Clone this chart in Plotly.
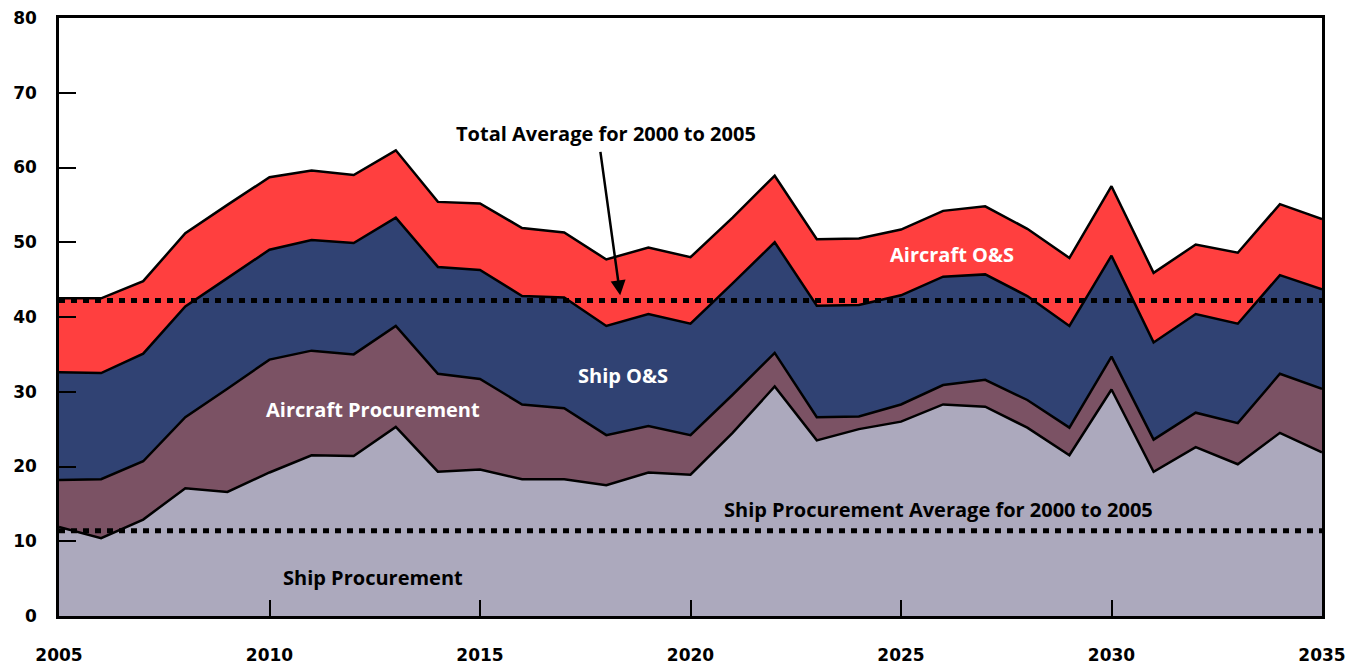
import plotly.graph_objects as go

# %% data

years = list(range(2005, 2036))

ship_procurement = [
    11.9, 10.4, 12.9, 17.1, 16.6, 19.2, 21.5, 21.4, 25.3, 19.3, 19.6,
    18.3, 18.3, 17.5, 19.2, 18.9, 24.5, 30.7, 23.5, 25.0, 26.0,
    28.3, 28.0, 25.2, 21.5, 30.3, 19.3, 22.6, 20.3, 24.5, 21.9,
]
aircraft_procurement = [
    6.3, 7.9, 7.8, 9.5, 13.8, 15.1, 14.0, 13.6, 13.5, 13.1, 12.1,
    10.0, 9.5, 6.7, 6.2, 5.3, 5.1, 4.5, 3.1, 1.7, 2.3,
    2.6, 3.6, 3.7, 3.7, 4.4, 4.3, 4.6, 5.5, 7.9, 8.5,
]
ship_os = [
    14.4, 14.2, 14.4, 14.8, 14.8, 14.7, 14.8, 14.9, 14.5, 14.3, 14.6,
    14.5, 14.8, 14.6, 15.0, 14.9, 14.9, 14.8, 14.9, 14.9, 14.6,
    14.5, 14.1, 13.9, 13.6, 13.5, 13.0, 13.2, 13.3, 13.2, 13.3,
]
aircraft_os = [
    9.9, 10.0, 9.7, 9.8, 9.8, 9.7, 9.3, 9.1, 9.0, 8.7, 8.9,
    9.1, 8.7, 8.9, 8.9, 8.9, 8.8, 8.9, 8.9, 8.9, 8.8,
    8.8, 9.1, 9.0, 9.1, 9.3, 9.3, 9.3, 9.5, 9.5, 9.4,
]

total_avg_2000_2005 = 42.2
ship_proc_avg_2000_2005 = 11.4

x_ticks = [2005, 2010, 2015, 2020, 2025, 2030, 2035]
y_ticks = [0, 10, 20, 30, 40, 50, 60, 70, 80]

# %% plot

layers = [
    ("Ship Procurement", ship_procurement, "#aca9bd"),
    ("Aircraft Procurement", aircraft_procurement, "#7b5264"),
    ("Ship O&S", ship_os, "#304273"),
    ("Aircraft O&S", aircraft_os, "#ff3f3f"),
]

fig = go.Figure()

for name, vals, color in layers:
    fig.add_trace(
        go.Scatter(
            x=years,
            y=vals,
            name=name,
            mode="lines",
            stackgroup="one",
            line=dict(color="black", width=2.5),
            fillcolor=color,
            showlegend=False,
        )
    )

# dotted average lines
for avg in [total_avg_2000_2005, ship_proc_avg_2000_2005]:
    fig.add_trace(
        go.Scatter(
            x=[years[0], years[-1]],
            y=[avg, avg],
            mode="lines",
            line=dict(color="black", width=5, dash="6px,6px"),
            showlegend=False,
        )
    )

label_font = dict(family="Open Sans", size=20, color="white")
black_font = dict(family="Open Sans", size=20, color="black")

fig.add_annotation(x=2026.2, y=48.4, text="<b>Aircraft O&S</b>", showarrow=False, font=label_font)
fig.add_annotation(x=2018.4, y=32.2, text="<b>Ship O&S</b>", showarrow=False, font=label_font)
fig.add_annotation(x=2012.45, y=27.6, text="<b>Aircraft Procurement</b>", showarrow=False, font=label_font)
fig.add_annotation(
    x=2025.9, y=14.2, text="<b>Ship Procurement Average for 2000 to 2005</b>", showarrow=False, font=black_font
)
fig.add_annotation(x=2012.45, y=5.2, text="<b>Ship Procurement</b>", showarrow=False, font=black_font)

# arrow to the total average line
fig.add_annotation(
    x=2018.33,
    y=total_avg_2000_2005 + 0.7,
    ax=-20,
    ay=-145,
    text="",
    showarrow=True,
    arrowhead=2,
    arrowsize=1.2,
    arrowwidth=2.5,
    arrowcolor="black",
)
fig.add_annotation(
    x=2018.0, y=64.6, text="<b>Total Average for 2000 to 2005</b>", showarrow=False, font=black_font
)

axis_font = dict(family="DejaVu Sans", size=17, color="black", weight="bold")

fig.update_xaxes(
    range=[2005, 2035],
    tickvals=x_ticks,
    ticks="inside",
    ticklen=16,
    tickwidth=2,
    tickcolor="black",
    showline=True,
    linecolor="black",
    linewidth=2.5,
    mirror=True,
    showgrid=False,
    zeroline=False,
    automargin=False,
    ticklabeloverflow="allow",
    ticklabelstandoff=22,
    tickfont=axis_font,
)
fig.update_yaxes(
    range=[0, 80],
    tickvals=y_ticks,
    ticks="inside",
    ticklen=17,
    tickwidth=2,
    tickcolor="black",
    showline=True,
    linecolor="black",
    linewidth=2.5,
    mirror=True,
    showgrid=False,
    zeroline=False,
    automargin=False,
    ticklabeloverflow="allow",
    ticklabelstandoff=16,
    tickfont=axis_font,
)

# page body adds an 8px offset, margins compensate for it
fig.update_layout(
    width=1362,
    height=665,
    margin=dict(l=51, r=48, t=10, b=57),
    plot_bgcolor="white",
    paper_bgcolor="white",
)

fig.write_html("out.html")
